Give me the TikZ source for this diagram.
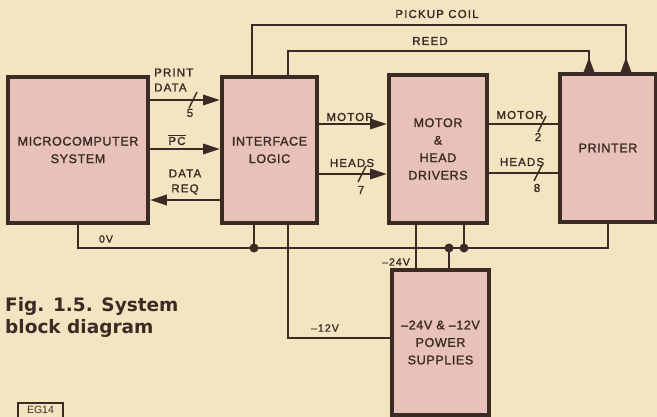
\documentclass[tikz,border=0pt]{standalone}
\usepackage{fontspec}
\setmainfont{Liberation Sans}
\newfontfamily\boxfont[LetterSpace=5,FakeBold=1.5]{Liberation Sans}
\newfontfamily\sigfont[LetterSpace=10,FakeBold=1.5]{Liberation Sans}
\newfontfamily\capfont{DejaVu Sans}
\usepackage{tikz}
\usetikzlibrary{positioning,arrows.meta,calc}
\definecolor{paper}{HTML}{F4E4C1}
\definecolor{blockpink}{HTML}{E8C2B8}
\definecolor{ink}{HTML}{3A2B25}

\begin{document}
\begin{tikzpicture}[
  x=1pt, y=-1pt,
  every node/.style={text=ink},
  block/.style 2 args={draw=ink, line width=3.6pt, fill=blockpink, minimum width=#1,
                       minimum height=#2, align=center, inner sep=0pt,
                       font=\boxfont\fontsize{12.5}{17.5}\selectfont},
  lbl/.style={font=\sigfont\fontsize{11.5}{15}\selectfont, align=center, inner sep=0pt},
  vlbl/.style={font=\sigfont\fontsize{10.5}{13}\selectfont, inner sep=0pt},
  wire/.style={draw=ink, line width=2.9pt},
  sig/.style={wire, -{Triangle[length=17pt,width=10pt]}},
  back/.style={wire, {Triangle[reversed,length=15pt,width=10pt]}-},
  tick/.style={draw=ink, line width=1.5pt}]

%% Paper and page size
\fill[paper] (0,0) rectangle (657,417);
\useasboundingbox (0,0) rectangle (657,417);

%% Blocks
\node[block={140}{146}] (micro)   at (78,150)    {MICROCOMPUTER\\SYSTEM};
\node[block={95}{146}]  (iface)   at (269.5,150) {INTERFACE\\LOGIC};
\node[block={98}{148}]  (drivers) at (438,149)   {MOTOR\\\&\\HEAD\\DRIVERS};
\node[block={96}{148}]  (printer) at (608,148)   {PRINTER};
\node[block={97}{145}]  (psu)     at (440.5,342.5) {–24V \& –12V\\POWER\\SUPPLIES};

%% Microcomputer <-> interface
\draw[sig] (micro.east |- 0,100) -- (iface.west |- 0,100);
\draw[sig] (micro.east |- 0,149) -- (iface.west |- 0,149);
\draw[sig] (iface.west |- 0,200) -- (micro.east |- 0,200);

%% Interface -> drivers -> printer
\draw[sig]  (iface.east |- 0,124)   -- (drivers.west |- 0,124);
\draw[sig]  (iface.east |- 0,174)   -- (drivers.west |- 0,174);
\draw[wire] (drivers.east |- 0,124) -- (printer.west |- 0,124);
\draw[wire] (drivers.east |- 0,173) -- (printer.west |- 0,173);

%% Sensors back from the printer
\draw[back] (printer.north -| 589,0) |- (288,51) -- (iface.north -| 288,0);
\draw[back] (printer.north -| 626,0) |- (252,25) -- (iface.north -| 252,0);

%% Supply rails
\coordinate (rail) at (0,248);
\draw[wire] (micro.south) |- (printer.south |- rail) -- (printer.south);
\draw[wire] (iface.south -| 254,0)   -- (254,0 |- rail);
\draw[wire] (iface.south -| 288,0)   |- (psu.west |- 0,338);
\draw[wire] (drivers.south -| 416,0) -- (psu.north -| 416,0);
\draw[wire] (drivers.south -| 464,0) -- (464,0 |- rail);
\draw[wire] (psu.north -| 449,0)     -- (449,0 |- rail);
\foreach \x in {254,449,464}{
  \fill[ink] (\x,0 |- rail) circle (4.5);
}

%% Bus widths
\foreach \x/\y/\n/\nx/\ny in {193/100/5/190/113, 362/174/7/361/190,
                              542/124/2/538/137, 538/173/8/537/188}{
  \draw[tick] (\x-4,\y+8) -- (\x+4,\y-8);
  \node[lbl] at (\nx,\ny) {\n};
}

%% Labels
\node[lbl, align=left, anchor=west] at (154,80) {PRINT\\DATA};
\node[lbl] at (177,140) {$\overline{\hbox{\sigfont\fontsize{11.5}{15}\selectfont PC}}$};
\node[lbl] at (185,182) {DATA\\REQ};
\node[lbl] at (350,117) {MOTOR};
\node[lbl] at (352,163) {HEADS};
\node[lbl] at (520,115) {MOTOR};
\node[lbl] at (522,162) {HEADS};
\node[lbl] at (437,14)  {PICKUP COIL};
\node[lbl] at (430,41)  {REED};
\node[vlbl] at (106,239) {0V};
\node[vlbl] at (396,262) {–24V};
\node[vlbl] at (325,328) {–12V};

%% Caption
\node[anchor=north west, align=left, inner sep=0pt,
      font=\capfont\bfseries\fontsize{18.5}{22}\selectfont] (caption) at (5,297)
  {Fig. 1.5. System\\block diagram};
\node[draw=ink, line width=1.6pt, minimum width=45, minimum height=15, inner sep=0pt,
      anchor=north, font=\fontsize{10.5}{11}\selectfont] (tag) at (40.5,402) {EG14};
\end{tikzpicture}
\end{document}
